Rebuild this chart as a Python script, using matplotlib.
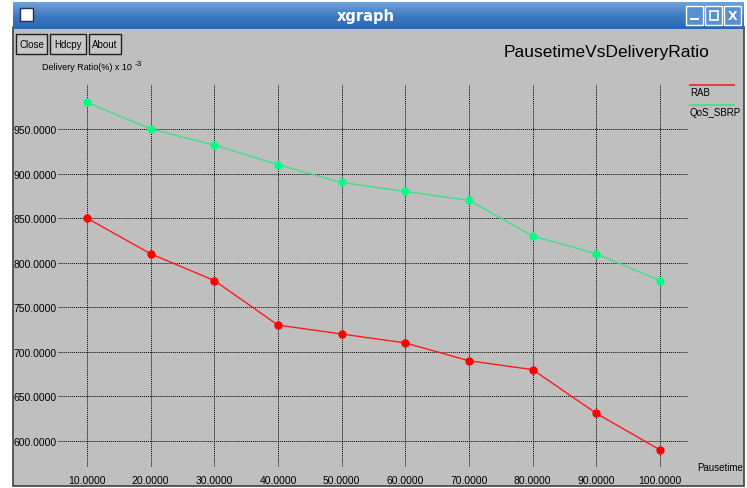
import matplotlib
matplotlib.use("Agg")
import matplotlib.pyplot as plt
from matplotlib.patches import Rectangle
from matplotlib.colors import LinearSegmentedColormap
from matplotlib import font_manager
import numpy as np

# ---- data ----
pausetime = [10, 20, 30, 40, 50, 60, 70, 80, 90, 100]
rab = [850, 810, 780, 730, 720, 710, 690, 680, 631, 590]
qos_sbrp = [980, 950, 932, 910, 890, 880, 870, 830, 810, 780]
yticks = [600, 650, 700, 750, 800, 850, 900, 950]
series_names = ["RAB", "QoS_SBRP"]

names = {f.name for f in font_manager.fontManager.ttflist}
FONT = "DejaVu Sans"
for cand in ["Liberation Sans Narrow", "DejaVu Sans Condensed", "Arial Narrow", "Liberation Sans"]:
    if cand in names:
        FONT = cand
        break

W, H = 747, 489
fig = plt.figure(figsize=(W / 100, H / 100), dpi=100)
fig.patch.set_facecolor("white")


def fx(x):
    return x / W


def fy(y):
    return 1 - y / H


def rect(x0, y0, x1, y1, z=-5, **kw):
    r = Rectangle((fx(x0), fy(y1)), fx(x1) - fx(x0), fy(y0) - fy(y1),
                  transform=fig.transFigure, zorder=z, **kw)
    fig.add_artist(r)
    return r


# window body
rect(13, 28, 744, 487, z=-10, facecolor="#bfbfbf", edgecolor="#404040", linewidth=1.2)
# title bar gradient
grad = np.linspace(0, 1, 64).reshape(-1, 1)
tax = fig.add_axes([fx(13), fy(30), fx(744) - fx(13), fy(3) - fy(30)])
cmap = LinearSegmentedColormap.from_list("tb", ["#6fa3dc", "#3f7bc4", "#2d66b0"])
tax.imshow(grad, aspect="auto", cmap=cmap, extent=[0, 1, 0, 1], origin="upper")
tax.set_axis_off()
fig.text(fx(366), fy(17), "xgraph", color="white", fontsize=10.5, fontweight="bold",
         ha="center", va="center", family="DejaVu Sans", zorder=10)
# title bar icons
rect(20, 9, 33, 22, z=2, facecolor="white", edgecolor="#203050", linewidth=1)
for x0 in [686, 705, 724]:
    rect(x0, 7, x0 + 17, 26, z=2, facecolor="#5b90d0", edgecolor="white", linewidth=1)
rect(690, 19, 699, 21, z=4, facecolor="white", edgecolor="none")
rect(710, 12, 718, 21, z=4, facecolor="none", edgecolor="white", linewidth=1.2)
fig.text(fx(732.5), fy(16.5), "X", color="white", fontsize=9, fontweight="bold",
         ha="center", va="center", zorder=10)

# buttons
for label, x0, x1 in [("Close", 16, 47), ("Hdcpy", 50, 86), ("About", 89, 121)]:
    rect(x0, 35, x1, 55, z=1, facecolor="#c8c8c8", edgecolor="#202020", linewidth=1)
    fig.text(fx((x0 + x1) / 2), fy(45), label, fontsize=7, ha="center", va="center",
             family=FONT, zorder=10)

# main axes
ax = fig.add_axes([fx(58), fy(468), fx(688) - fx(58), fy(85) - fy(468)])
ax.set_facecolor("#bfbfbf")
ax.set_xlim(5.45, 104.4)
ax.set_ylim(570.8, 1000.5)
ax.plot(pausetime, rab, color="#ff1a1a", linewidth=1, marker="o", markersize=5,
        markerfacecolor="#ff0000", markeredgecolor="#ff0000", zorder=3)
ax.plot(pausetime, qos_sbrp, color="#3ce08a", linewidth=1, marker="o", markersize=5,
        markerfacecolor="#00ff80", markeredgecolor="#00ff80", zorder=3)
ax.set_xticks(pausetime)
ax.set_yticks(yticks)
ax.set_xticklabels([f"{v:.4f}" for v in pausetime], family=FONT, fontsize=7.5)
ax.set_yticklabels([f"{v:.4f}" for v in yticks], family=FONT, fontsize=7.5)
ax.tick_params(length=0, pad=1)
ax.tick_params(axis="x", pad=6)
for s in ax.spines.values():
    s.set_visible(False)
ax.grid(True, color="black", linestyle=(0, (1, 1)), linewidth=0.7)
ax.set_axisbelow(True)

# title and labels
fig.text(fx(607), fy(52), "PausetimeVsDeliveryRatio", fontsize=12.5, family=FONT,
         ha="center", va="center")
fig.text(fx(42), fy(68), "Delivery Ratio(%) x 10", fontsize=6.5, family=FONT,
         ha="left", va="center")
fig.text(fx(135), fy(64), "-3", fontsize=6, family=FONT, ha="left", va="center")
fig.text(fx(697), fy(468), "Pausetime", fontsize=7, family=FONT, ha="left", va="center")

# legend
colors = ["#ff1a1a", "#3ce08a"]
for i, (name, c) in enumerate(zip(series_names, colors)):
    y0 = 86 + i * 20
    fig.add_artist(plt.Line2D([fx(690), fx(734)], [fy(y0), fy(y0)], color=c,
                              linewidth=1.2, transform=fig.transFigure))
    fig.text(fx(690), fy(y0 + 7), name, fontsize=7, family=FONT, ha="left", va="center")

fig.savefig("out.png", dpi=100)
